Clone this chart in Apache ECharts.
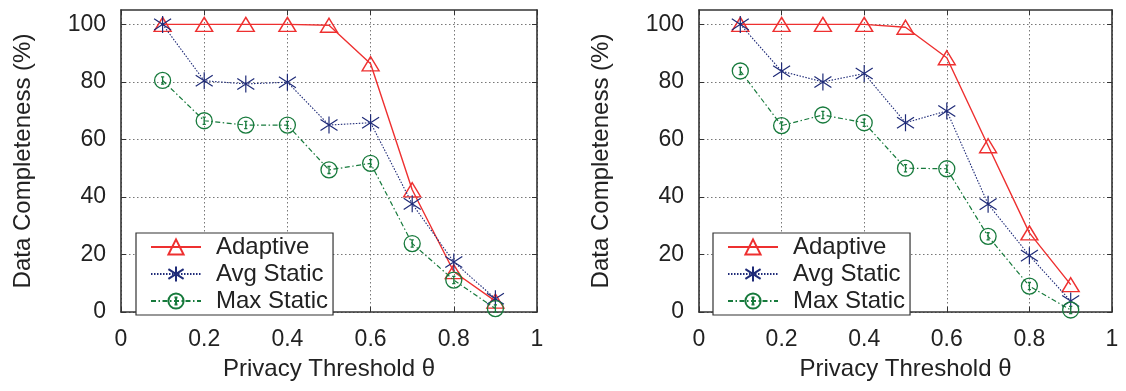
<!DOCTYPE html>
<html><head><meta charset="utf-8">
<script src="https://cdn.jsdelivr.net/npm/echarts@6/dist/echarts.min.js"></script>
<style>html,body{margin:0;padding:0;background:#fff}#c{width:1126px;height:391px}</style>
</head><body><div id="c"></div>
<script>
// ---- data ----
const thresholds = [0.1, 0.2, 0.3, 0.4, 0.5, 0.6, 0.7, 0.8, 0.9];
const seriesNames = ['Adaptive', 'Avg Static', 'Max Static'];
const leftAdaptive  = [100, 100, 100, 100, 99.7, 86.3, 42.5, 14, 3.8];
const leftAvgStatic = [100, 80.4, 79.3, 79.9, 65, 65.8, 37.6, 17.4, 4.6];
const leftMaxStatic = [80.5, 66.5, 65, 65, 49.4, 51.7, 23.8, 11.1, 1.2];
const rightAdaptive  = [100, 100, 100, 100, 99, 88.4, 57.8, 27.5, 9.5];
const rightAvgStatic = [100, 83.7, 80, 82.9, 65.8, 69.9, 37.5, 19.6, 3.8];
const rightMaxStatic = [83.8, 64.8, 68.5, 65.8, 50, 49.8, 26.3, 9, 0.7];
const yTickValues = [0, 20, 40, 60, 80, 100];
const xTitle = 'Privacy Threshold θ';
const yTitle = 'Data Completeness (%)';

// ---- styles ----
const FONT = 'Liberation Sans';
const RED = '#ee3030', NAVY = '#1f2b78', GREEN = '#177a3c';
const AXIS = '#333';
const asterisk = 'path://M10,0L10,20M1.5,3.5L18.5,16.5M1.5,16.5L18.5,3.5';
const circleI = 'path://M0,10A10,10 0 1,0 20,10A10,10 0 1,0 0,10ZM10,5.5L10,14.5M8,5.5L12,5.5M8,14.5L12,14.5';

function pairs(vals) { return thresholds.map((x, i) => [x, vals[i]]); }

function xAxes(g) {
  return [{
    type: 'value', gridIndex: g, min: 0, max: 1, interval: 0.2, position: 'bottom',
    name: xTitle, nameLocation: 'middle', nameGap: 45,
    nameTextStyle: { fontFamily: FONT, fontSize: 24, color: '#222' },
    axisLine: { show: true, onZero: false, lineStyle: { color: AXIS, width: 1.6 } },
    axisTick: { show: true, inside: true, length: 5, lineStyle: { color: AXIS } },
    axisLabel: { fontFamily: FONT, fontSize: 23, color: '#222', margin: 16 },
    splitLine: { show: true, lineStyle: { color: '#777', type: [1.5, 2.5], width: 1 } }
  }, {
    type: 'value', gridIndex: g, min: 0, max: 1, interval: 0.2, position: 'top',
    axisLine: { show: true, onZero: false, lineStyle: { color: AXIS, width: 1.6 } },
    axisTick: { show: true, inside: true, length: 5, lineStyle: { color: AXIS } },
    axisLabel: { show: false }, splitLine: { show: false }
  }];
}
function yAxes(g) {
  return [{
    type: 'value', gridIndex: g, min: 0, max: 105, interval: 20, position: 'left',
    name: yTitle, nameLocation: 'middle', nameGap: 86, nameRotate: 90,
    nameTextStyle: { fontFamily: FONT, fontSize: 24, color: '#222' },
    axisLine: { show: true, onZero: false, lineStyle: { color: AXIS, width: 1.6 } },
    axisTick: { show: true, inside: true, length: 5, lineStyle: { color: AXIS },
      customValues: yTickValues },
    axisLabel: { fontFamily: FONT, fontSize: 23, color: '#222', margin: 15,
      customValues: yTickValues },
    splitLine: { show: true, lineStyle: { color: '#777', type: [1.5, 2.5], width: 1 } }
  }, {
    type: 'value', gridIndex: g, min: 0, max: 105, interval: 20, position: 'right',
    axisLine: { show: true, onZero: false, lineStyle: { color: AXIS, width: 1.6 } },
    axisTick: { show: true, inside: true, length: 5, lineStyle: { color: AXIS },
      customValues: yTickValues },
    axisLabel: { show: false }, splitLine: { show: false }
  }];
}

function seriesFor(g, a, b, c) {
  const xi = g * 2, yi = g * 2;
  return [{
    name: seriesNames[0], type: 'line', xAxisIndex: xi, yAxisIndex: yi, data: pairs(a),
    symbol: 'triangle', symbolSize: [17, 14], showAllSymbol: true,
    lineStyle: { color: RED, width: 1.4, type: 'solid' },
    itemStyle: { color: 'rgba(0,0,0,0)', borderColor: RED, borderWidth: 1.4 },
    emphasis: { disabled: true }, z: 3
  }, {
    name: seriesNames[1], type: 'line', xAxisIndex: xi, yAxisIndex: yi, data: pairs(b),
    symbol: asterisk, symbolSize: 17, showAllSymbol: true,
    lineStyle: { color: NAVY, width: 1.1, type: [1.5, 1.5] },
    itemStyle: { color: 'rgba(0,0,0,0)', borderColor: NAVY, borderWidth: 1.2 },
    emphasis: { disabled: true }, z: 4
  }, {
    name: seriesNames[2], type: 'line', xAxisIndex: xi, yAxisIndex: yi, data: pairs(c),
    symbol: circleI, symbolSize: 16, showAllSymbol: true,
    lineStyle: { color: GREEN, width: 1.2, type: [5, 2.5, 1.5, 2.5] },
    itemStyle: { color: 'rgba(0,0,0,0)', borderColor: GREEN, borderWidth: 1.3 },
    emphasis: { disabled: true }, z: 5
  }];
}

function legendAt(left) {
  return {
    show: true, orient: 'vertical', left: left, top: 233,
    data: seriesNames, itemWidth: 50, itemHeight: 19, itemGap: 3,
    padding: [2, 5, 2, 14],
    backgroundColor: '#fff', borderColor: '#333', borderWidth: 1.2,
    textStyle: { fontFamily: FONT, fontSize: 24, color: '#222', padding: [0, 0, 0, 10], lineHeight: 22 },
    selectedMode: false
  };
}

const chart = echarts.init(document.getElementById('c'), null, { renderer: 'canvas' });
chart.setOption({
  animation: false,
  backgroundColor: '#fff',
  grid: [
    { left: 121, right: 589, top: 10, bottom: 79, containLabel: false },
    { left: 699, right: 14, top: 10, bottom: 79, containLabel: false }
  ],
  xAxis: [...xAxes(0), ...xAxes(1)],
  yAxis: [...yAxes(0), ...yAxes(1)],
  legend: [legendAt(136), legendAt(713)],
  series: [
    ...seriesFor(0, leftAdaptive, leftAvgStatic, leftMaxStatic),
    ...seriesFor(1, rightAdaptive, rightAvgStatic, rightMaxStatic)
  ]
});
</script></body></html>
